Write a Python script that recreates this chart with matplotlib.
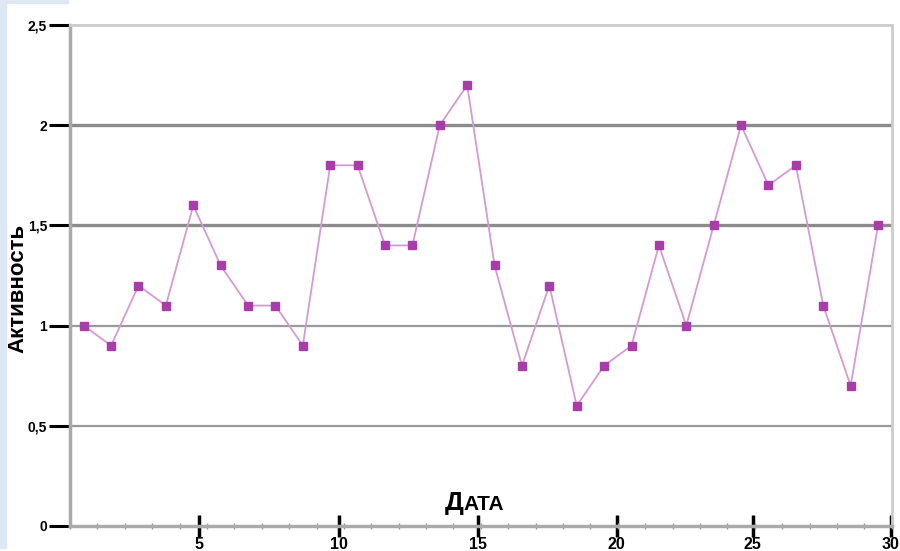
# Активность по дням месяца
import matplotlib
matplotlib.use("Agg")
import matplotlib.pyplot as plt
from matplotlib.patches import Rectangle

days = list(range(1, 31))
activity = [1.0, 0.9, 1.2, 1.1, 1.6, 1.3, 1.1, 1.1, 0.9, 1.8,
            1.8, 1.4, 1.4, 2.0, 2.2, 1.3, 0.8, 1.2, 0.6, 0.8,
            0.9, 1.4, 1.0, 1.5, 2.0, 1.7, 1.8, 1.1, 0.7, 1.5]
y_ticks = [0, 0.5, 1, 1.5, 2, 2.5]
y_labels = ["0", "0,5", "1", "1,5", "2", "2,5"]
x_labels = ["5", "10", "15", "20", "25", "30"]
# where the labelled ticks sit on the day axis (slightly off the day edges in the original)
x_major = [4.71, 9.82, 14.89, 19.96, 24.93, 29.96]

plt.rcParams['font.family'] = ['Liberation Sans Narrow', 'Liberation Sans', 'DejaVu Sans']

fig = plt.figure(figsize=(9, 5.51), dpi=100)
fig.patch.set_facecolor("white")
# light blue page edge
fig.patches.append(Rectangle((0, 0.005), 0.0067, 0.995, transform=fig.transFigure,
                             color="#dde8f4", zorder=0))
fig.patches.append(Rectangle((0, 0.994), 0.075, 0.006, transform=fig.transFigure,
                             color="#dde8f4", zorder=0))

ax = fig.add_axes([0.0778, 0.0454, 0.913, 0.9092])
ax.set_xlim(0, 30)
ax.set_ylim(0, 2.5)

# horizontal grid
for v, lw, c in [(0.5, 1.6, "#9a9a9a"), (1.0, 1.6, "#9a9a9a"),
                 (1.5, 2.4, "#8c8c8c"), (2.0, 2.4, "#8c8c8c")]:
    ax.axhline(v, color=c, lw=lw, zorder=1)

for s in ["left", "bottom"]:
    ax.spines[s].set_color("#aaaaaa")
    ax.spines[s].set_linewidth(2.5)
for s in ["top", "right"]:
    ax.spines[s].set_color("#cccccc")
    ax.spines[s].set_linewidth(2)

xs = [d - 0.5 for d in days]
ax.plot(xs, activity, color="#d49ad4", lw=1.3, zorder=3)
ax.plot(xs, activity, ls="none", marker="s", ms=5.5, color="#a83ca8", zorder=4)

ax.set_yticks(y_ticks)
ax.set_yticklabels(y_labels, fontsize=10, fontweight="bold")
ax.tick_params(axis="y", length=15, width=2.2, color="black", pad=1.5)

ax.set_xticks(x_major)
ax.set_xticklabels(x_labels, fontsize=11.5, fontweight="bold")
ax.set_xticks(range(0, 31), minor=True)
ax.tick_params(axis="x", which="major", direction="inout", length=16, width=2.5,
               color="black", pad=0)
ax.tick_params(axis="x", which="minor", direction="inout", length=5, width=1,
               color="#999999")

ax.text(-0.0635, 0.475, "Активность", transform=ax.transAxes, rotation=90,
        ha="center", va="center", fontsize=16, fontweight="heavy")
ax.text(0.479, 0.032, "Д", transform=ax.transAxes, ha="right", va="baseline",
        fontsize=19, fontweight="heavy")
ax.text(0.479, 0.032, "АТА", transform=ax.transAxes, ha="left", va="baseline",
        fontsize=15, fontweight="heavy")

fig.savefig("out.png", dpi=100, facecolor="white")
